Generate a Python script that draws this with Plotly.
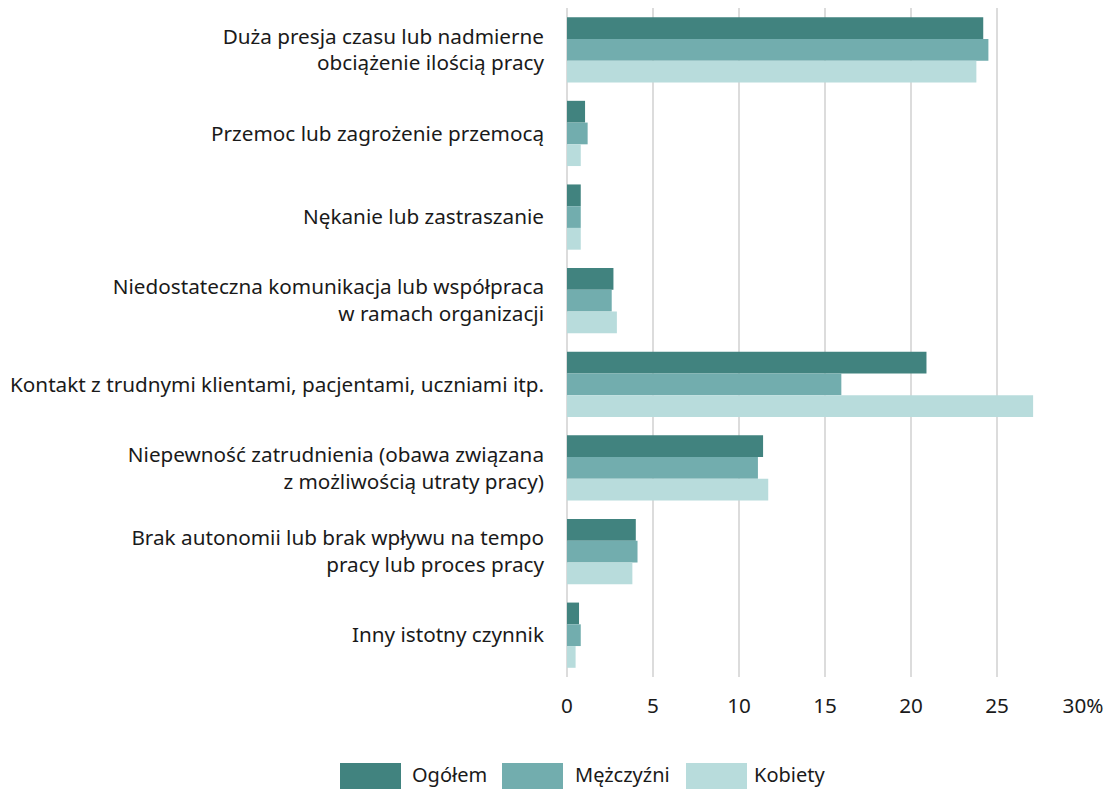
import plotly.graph_objects as go

categories = [
    "Duża presja czasu lub nadmierne<br>obciążenie ilością pracy",
    "Przemoc lub zagrożenie przemocą",
    "Nękanie lub zastraszanie",
    "Niedostateczna komunikacja lub współpraca<br>w ramach organizacji",
    "Kontakt z trudnymi klientami, pacjentami, uczniami itp.",
    "Niepewność zatrudnienia (obawa związana<br>z możliwością utraty pracy)",
    "Brak autonomii lub brak wpływu na tempo<br>pracy lub proces pracy",
    "Inny istotny czynnik",
]
series_names = ["Ogółem", "Mężczyźni", "Kobiety"]
ogolem = [24.2, 1.05, 0.8, 2.7, 20.9, 11.4, 4.0, 0.7]
mezczyzni = [24.5, 1.2, 0.8, 2.6, 15.95, 11.1, 4.1, 0.8]
kobiety = [23.8, 0.8, 0.8, 2.9, 27.1, 11.7, 3.8, 0.5]
tick_vals = [0, 5, 10, 15, 20, 25, 30]
tick_text = ["0", "5", "10", "15", "20", "25", "30%"]

colors = ["#41837F", "#72ADAE", "#B8DCDC"]
FONT = "Noto Sans"
FS = 20.7

fig = go.Figure()
for name, vals, col in zip(series_names, [ogolem, mezczyzni, kobiety], colors):
    fig.add_trace(go.Bar(
        y=categories, x=vals, name=name, orientation="h",
        marker=dict(color=col, line=dict(width=0)), showlegend=False,
    ))

# page body has an 8px margin, so the figure is a bit smaller than the window
OFF = 8
W, H = 1113 - OFF, 789 - OFF
ml, mr, mt, mb = 567 - OFF, 30, 0, 112
pw = W - ml - mr
ph = H - mt - mb

def px_x(p):
    return (p - OFF - ml) / pw

def px_y(p):
    return (H - mb - (p - OFF)) / ph

# custom legend with wide swatches
legend_pos = [(340, 401, 413), (502, 563, 576), (686, 747, 755)]
shapes = []
annotations = []
for (x0, x1, tx), name, col in zip(legend_pos, series_names, colors):
    shapes.append(dict(type="rect", xref="paper", yref="paper",
                       x0=px_x(x0), x1=px_x(x1), y0=px_y(763), y1=px_y(789),
                       fillcolor=col, line=dict(width=0)))
    annotations.append(dict(xref="paper", yref="paper", x=px_x(tx - 2), y=px_y(775),
                            xanchor="left", yanchor="middle", text=name, borderpad=0,
                            showarrow=False, font=dict(size=20, color="#1a1a1a", family=FONT)))

fig.update_layout(
    width=W, height=H,
    margin=dict(l=ml, r=mr, t=mt, b=mb),
    barmode="group", bargap=0.22, bargroupgap=0,
    plot_bgcolor="white", paper_bgcolor="white",
    font=dict(family=FONT, size=FS, color="#1a1a1a"),
    shapes=shapes, annotations=annotations,
    xaxis=dict(range=[0, 30], tickvals=tick_vals, ticktext=tick_text,
               showgrid=True, gridcolor="#DCDCDC", gridwidth=2,
               zeroline=True, zerolinecolor="#DCDCDC", zerolinewidth=2,
               showline=False, ticks="", ticklabelstandoff=14, fixedrange=True),
    yaxis=dict(autorange="reversed", showgrid=False, ticks="",
               ticklabelstandoff=22, showline=False),
)

fig.write_html("out.html")
